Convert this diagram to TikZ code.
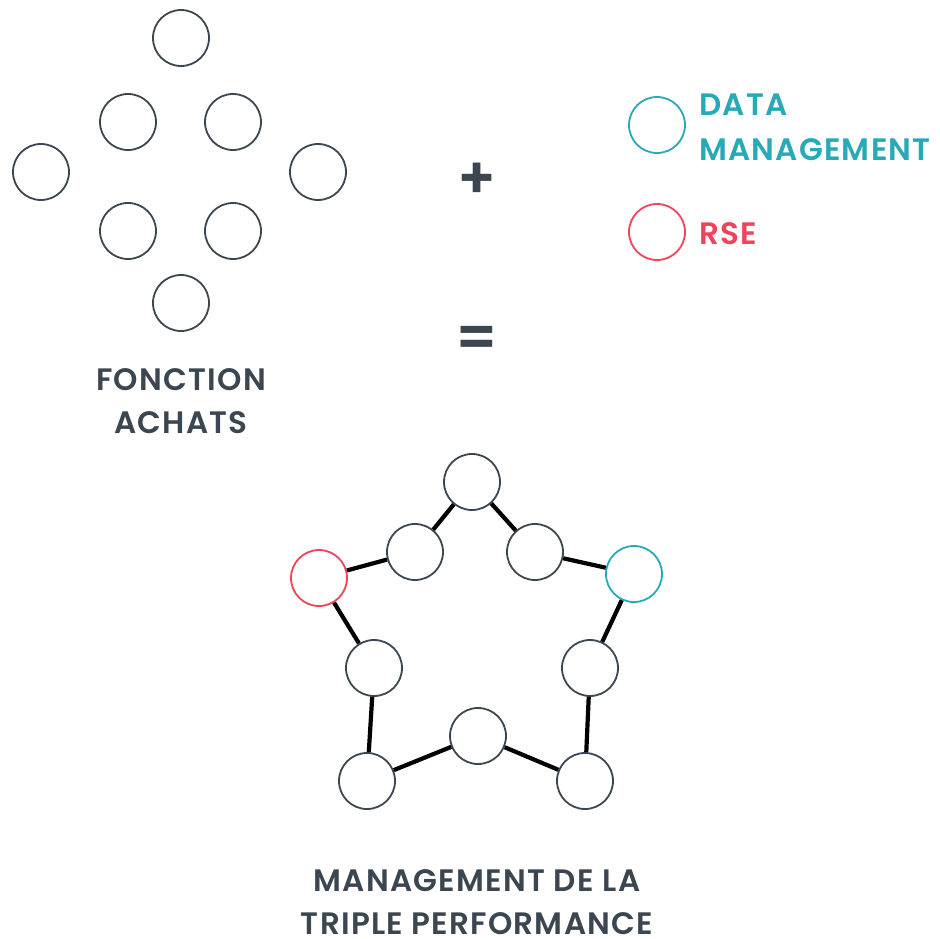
\documentclass[tikz,border=0pt]{standalone}
\usepackage{fontspec}
\setmainfont{Poppins}[BoldFont={Poppins SemiBold}, LetterSpace=4]
\definecolor{slate}{HTML}{3B4650}
\definecolor{teal}{HTML}{27A9B7}
\definecolor{rose}{HTML}{F2435C}
\tikzset{
  dot/.style={circle, draw=slate, line width=1.8pt, minimum size=56pt, inner sep=0pt, fill=white},
  dotteal/.style={dot, draw=teal},
  dotrose/.style={dot, draw=rose},
  link/.style={line width=4.2pt, black},
  caption/.style={font=\fontsize{31}{44}\selectfont\bfseries, text=slate, align=center, inner sep=0pt},
  legend/.style={font=\fontsize{31}{44}\selectfont\bfseries, align=left, inner sep=0pt, anchor=base west},
  sign/.style={font=\fontsize{58}{58}\selectfont\bfseries, text=slate, inner sep=0pt}
}
\begin{document}
\begin{tikzpicture}[x=1pt, y=-1pt]
\useasboundingbox (0,0) rectangle (939,939);

% purchasing function: diamond of circles
\node[dot] (f1) at (181,38) {};
\node[dot] (f2) at (128,122) {};
\node[dot] (f3) at (233,122) {};
\node[dot] (f4) at (41,172) {};
\node[dot] (f5) at (318,172) {};
\node[dot] (f6) at (128,231) {};
\node[dot] (f7) at (233,231) {};
\node[dot] (f8) at (181,303) {};
\node[caption, anchor=base] (fl1) at (181,390) {FONCTION};
\node[caption, anchor=base] (fl2) at (181,433) {ACHATS};

% operators
\node[sign] (plus) at (477,181) {+};
\node[sign] (equals) at (477,342) {=};

% legend
\node[dotteal] (ld) at (657,125) {};
\node[legend, text=teal] (ldt1) at (699,116) {DATA};
\node[legend, text=teal] (ldt2) at (699,160) {MANAGEMENT};
\node[dotrose] (lr) at (657,232) {};
\node[legend, text=rose] (lrt) at (699,244) {RSE};

% triple performance network
\node[dot] (p1) at (472,482) {};
\node[dot] (p2) at (415,552) {};
\node[dot] (p3) at (535,552) {};
\node[dotrose] (p4) at (319,578) {};
\node[dotteal] (p5) at (634,574) {};
\node[dot] (p6) at (374,668) {};
\node[dot] (p7) at (590,668) {};
\node[dot] (p8) at (367,781) {};
\node[dot] (p9) at (478,736) {};
\node[dot] (p10) at (585,781) {};

\draw[link] (p1) -- (p2);
\draw[link] (p1) -- (p3);
\draw[link] (p2) -- (p4);
\draw[link] (p3) -- (p5);
\draw[link] (p4) -- (p6);
\draw[link] (p5) -- (p7);
\draw[link] (p6) -- (p8);
\draw[link] (p7) -- (p10);
\draw[link] (p8) -- (p9);
\draw[link] (p9) -- (p10);

\node[caption, anchor=base] (tl1) at (477,891) {MANAGEMENT DE LA};
\node[caption, anchor=base] (tl2) at (477,934) {TRIPLE PERFORMANCE};
\end{tikzpicture}
\end{document}
